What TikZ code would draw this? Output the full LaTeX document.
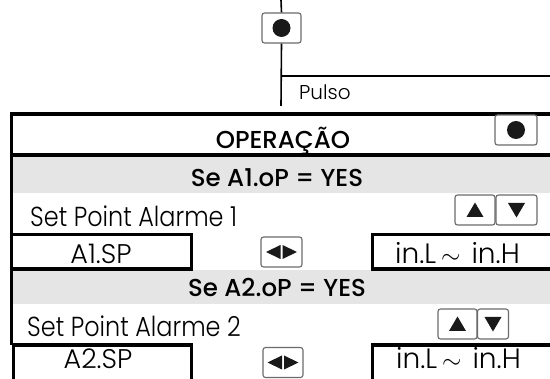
\documentclass[tikz,border=0pt]{standalone}
\usepackage{fontspec}
\setmainfont{Poppins}[UprightFont={* Light}, BoldFont={* Medium}]
\newfontfamily\narrowlight{Poppins}[UprightFont={* Light}, FakeStretch=0.87]
\usetikzlibrary{calc}
\definecolor{band}{gray}{0.9}
\definecolor{btnline}{gray}{0.42}
\definecolor{dotc}{gray}{0.1}
\tikzset{
  frame/.style={line width=3.5pt, draw=black},
  wire/.style={line width=1.6pt, draw=black},
  btnbox/.style={draw=btnline, line width=1.1pt, rounded corners=2.5pt, fill=white, inner sep=0pt, minimum height=30pt},
  fieldbox/.style={frame, inner sep=0pt},
  headtxt/.style={font=\bfseries\fontsize{24.5}{28}\selectfont, anchor=base, inner sep=0pt},
  bodytxt/.style={font=\narrowlight\fontsize{27.5}{32}\selectfont, anchor=base west, inner sep=0pt},
  valtxt/.style={font=\fontsize{27}{32}\selectfont, anchor=base, inner sep=0pt},
  rngtxt/.style={font=\fontsize{28}{32}\selectfont, anchor=base west, inner sep=0pt},
  pulsotxt/.style={font=\fontsize{20}{24}\selectfont, anchor=base west, inner sep=0pt},
  dotmark/.pic={\fill[dotc] (0,0) circle[radius=9pt];},
  triup/.pic={\fill[dotc] (-8.5,7) -- (8.5,7) -- (0,-7.5) -- cycle;},
  tridown/.pic={\fill[dotc] (-8.5,-7) -- (8.5,-7) -- (0,7.5) -- cycle;},
  trilr/.pic={\fill[dotc] (-1,-7) -- (-1,7) -- (-15.5,0) -- cycle;
              \fill[dotc] (1,-7) -- (1,7) -- (15.5,0) -- cycle;}
}
\begin{document}
\begin{tikzpicture}[x=1pt,y=-1pt]
\useasboundingbox (0,0) rectangle (550,379);
\clip (0,0) rectangle (550,379);

% grey condition bands
\fill[band] (13,157) rectangle (560,193);
\fill[band] (13,270) rectangle (560,304);

% main frame
\draw[frame] (11.5,345) -- (11.5,114) -- (600,114);
\draw[frame] (11.5,155) -- (600,155);

% value boxes
\node[fieldbox, minimum width=180pt, minimum height=34.5pt] (sp1box) at (101.5,251.75) {};
\node[fieldbox, minimum width=227pt, minimum height=34.5pt] (rng1box) at (486,251.75) {};
\node[fieldbox, minimum width=178pt, minimum height=55pt] (sp2box) at (102.5,372.5) {};
\node[fieldbox, minimum width=227pt, minimum height=55pt] (rng2box) at (486,372.5) {};

% connector and key
\coordinate (top) at (281,0);
\coordinate (bot) at (281,106);
\coordinate (branch) at (281,76);
\coordinate (rend) at (560,76);
\node[btnbox, minimum width=39pt] (key1) at (281.5,28) {};
\draw[wire] (top) -- (key1.north);
\draw[wire] (key1.south) -- (bot);
\draw[wire] (branch) -- (rend);
\pic at (key1.center) {dotmark};
\node[pulsotxt] (pulso) at (299,100) {Pulso};

% header
\node[headtxt] (op) at (283,149) {OPERAÇÃO};
\node[btnbox, minimum width=42pt] (key2) at (516,130) {};
\pic at (key2.center) {dotmark};

% section 1
\node[headtxt] (cond1) at (277,187) {Se A1.oP = YES};
\node[bodytxt] (lab1) at (30,227) {Set Point Alarme 1};
\node[btnbox, minimum width=40pt] (up1) at (475,210) {};
\node[btnbox, minimum width=41pt] (dn1) at (516.5,210) {};
\pic at (up1.center) {triup};
\pic at (dn1.center) {tridown};
\node[valtxt] (val1) at (101,264) {A1.SP};
\node[btnbox, minimum width=41pt] (lr1) at (281.5,252) {};
\pic at (lr1.center) {trilr};
\node[rngtxt] (rng1) at (395,264) {in.L\hspace{5pt}$\sim$\hspace{11pt}in.H};

% section 2
\node[headtxt] (cond2) at (277,297) {Se A2.oP = YES};
\node[bodytxt] (lab2) at (27,337) {Set Point Alarme 2};
\node[btnbox, minimum width=39pt] (up2) at (457.5,324) {};
\node[btnbox, minimum width=31pt] (dn2) at (493,324) {};
\pic at (up2.center) {triup};
\pic at (dn2.center) {tridown};
\node[valtxt] (val2) at (98,369) {A2.SP};
\node[btnbox, minimum width=40pt] (lr2) at (283,362.5) {};
\pic at (lr2.center) {trilr};
\node[rngtxt] (rng2) at (396,369) {in.L\hspace{5pt}$\sim$\hspace{11pt}in.H};
\end{tikzpicture}
\end{document}
